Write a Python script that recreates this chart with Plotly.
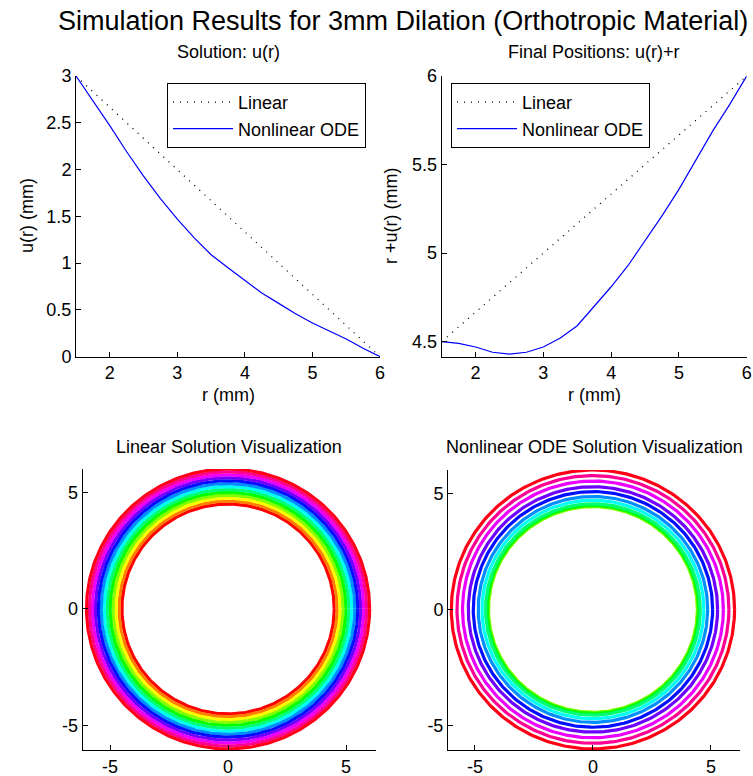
import colorsys
import numpy as np
import plotly.graph_objects as go

# ---------------- data ----------------
# solution curves (top panels)
r_grid = [1.5, 1.75, 2.0, 2.25, 2.5, 2.75, 3.0, 3.25, 3.5, 3.75,
          4.0, 4.25, 4.5, 4.75, 5.0, 5.25, 5.5, 5.75, 6.0]
u_nonlinear = [3.0, 2.74, 2.47, 2.19, 1.93, 1.69, 1.47, 1.27, 1.09, 0.95,
               0.81, 0.68, 0.57, 0.46, 0.36, 0.275, 0.19, 0.09, 0.0]
u_linear = [3.0, 2.8333, 2.6667, 2.5, 2.3333, 2.1667, 2.0, 1.8333, 1.6667, 1.5,
            1.3333, 1.1667, 1.0, 0.8333, 0.6667, 0.5, 0.3333, 0.1667, 0.0]

# ring visualization (bottom panels): initial radii and displacements
ring_r = [1.5, 1.875, 2.25, 2.625, 3.0, 3.375, 3.75, 4.125, 4.5, 4.875, 5.25, 5.625, 6.0]
ring_u_linear = [3.0, 2.75, 2.5, 2.25, 2.0, 1.75, 1.5, 1.25, 1.0, 0.75, 0.5, 0.25, 0.0]
ring_u_nonlinear = [3.0, 2.605, 2.19, 1.80, 1.47, 1.175, 0.95, 0.735, 0.57, 0.405,
                    0.275, 0.135, 0.0]

title_main = "Simulation Results for 3mm Dilation (Orthotropic Material)"
sub_titles = ["Solution: u(r)", "Final Positions: u(r)+r",
              "Linear Solution Visualization", "Nonlinear ODE Solution Visualization"]

tl_yticks = [0, 0.5, 1, 1.5, 2, 2.5, 3]
tl_yticktext = ["0", "0.5", "1", "1.5", "2", "2.5", "3"]
r_ticks = [2, 3, 4, 5, 6]
tr_yticks = [4.5, 5, 5.5, 6]
tr_yticktext = ["4.5", "5", "5.5", "6"]
circ_ticks = [-5, 0, 5]
circ_ticktext = ["-5", "0", "5"]

# ---------------- figure ----------------
W, H = 753, 776
FONT = "Liberation Sans, Arial, sans-serif"

def px(x):
    return x / W

def py(y):
    return 1 - y / H

pos_lin = [r + u for r, u in zip(r_grid, u_linear)]
pos_non = [r + u for r, u in zip(r_grid, u_nonlinear)]
ring_lin = [r + u for r, u in zip(ring_r, ring_u_linear)]
ring_non = [r + u for r, u in zip(ring_r, ring_u_nonlinear)]

fig = go.Figure()

# top-left
fig.add_trace(go.Scatter(x=r_grid, y=u_linear, mode="lines", name="Linear",
                         line=dict(color="black", width=1.3, dash="1px,6px"),
                         xaxis="x", yaxis="y", legend="legend"))
fig.add_trace(go.Scatter(x=r_grid, y=u_nonlinear, mode="lines", name="Nonlinear ODE",
                         line=dict(color="#0000ff", width=1.2),
                         xaxis="x", yaxis="y", legend="legend"))
# top-right
fig.add_trace(go.Scatter(x=r_grid, y=pos_lin, mode="lines", name="Linear",
                         line=dict(color="black", width=1.3, dash="1px,6px"),
                         xaxis="x2", yaxis="y2", legend="legend2"))
fig.add_trace(go.Scatter(x=r_grid, y=pos_non, mode="lines", name="Nonlinear ODE",
                         line=dict(color="#0000ff", width=1.2),
                         xaxis="x2", yaxis="y2", legend="legend2"))

# rings
theta = np.linspace(0, 2 * np.pi, 361)
N = len(ring_r)
for i in range(N):
    h = i / (N - 1) * 63 / 64
    rr, gg, bb = colorsys.hsv_to_rgb(h, 1, 1)
    col = f"rgb({int(rr*255)},{int(gg*255)},{int(bb*255)})"
    for pos, xa, ya in ((ring_lin, "x3", "y3"), (ring_non, "x4", "y4")):
        R = pos[i]
        fig.add_trace(go.Scatter(x=R * np.cos(theta), y=R * np.sin(theta), mode="lines",
                                 line=dict(color=col, width=3.2), showlegend=False,
                                 hoverinfo="skip", xaxis=xa, yaxis=ya))

axis_common = dict(showgrid=False, zeroline=False, showline=True, linecolor="black",
                   linewidth=1, ticks="inside", ticklen=5, tickcolor="black",
                   tickfont=dict(family=FONT, size=18, color="black"), mirror=False,
                   automargin=False)

legend_common = dict(xanchor="left", yanchor="top", bordercolor="black", borderwidth=1,
                     bgcolor="white", font=dict(family=FONT, size=18, color="black"),
                     tracegroupgap=0, itemwidth=60, entrywidth=150,
                     entrywidthmode="pixels")

fig.update_layout(
    width=W, height=H, margin=dict(l=0, r=0, t=0, b=0, pad=0, autoexpand=False),
    paper_bgcolor="white", plot_bgcolor="white",
    font=dict(family=FONT, size=18, color="black"),
    xaxis=dict(domain=[px(76), px(380)], range=[1.5, 6], tickvals=r_ticks,
               anchor="y", **axis_common),
    yaxis=dict(domain=[py(356.7), py(76)], range=[0, 3], tickvals=tl_yticks,
               ticktext=tl_yticktext, anchor="x", **axis_common),
    xaxis2=dict(domain=[px(441.7), px(746.7)], range=[1.5, 6], tickvals=r_ticks,
                anchor="y2", **axis_common),
    yaxis2=dict(domain=[py(356.7), py(76)], range=[4.415, 6], tickvals=tr_yticks,
                ticktext=tr_yticktext, anchor="x2", **axis_common),
    xaxis3=dict(domain=[px(82.7), px(376)], range=[-6.16, 6.27], tickvals=circ_ticks,
                ticktext=circ_ticktext, anchor="y3", **axis_common),
    yaxis3=dict(domain=[py(750), py(469)], range=[-6.05, 6.0], tickvals=circ_ticks,
                ticktext=circ_ticktext, anchor="x3", **axis_common),
    xaxis4=dict(domain=[px(448), px(740)], range=[-6.14, 6.23], tickvals=circ_ticks,
                ticktext=circ_ticktext, anchor="y4", **axis_common),
    yaxis4=dict(domain=[py(750), py(470)], range=[-6.05, 6.0], tickvals=circ_ticks,
                ticktext=circ_ticktext, anchor="x4", **axis_common),
    legend=dict(x=px(167), y=py(83), **legend_common),
    legend2=dict(x=px(451), y=py(83), **legend_common),
    showlegend=True,
)

ann = []
def add_text(text, x, y, size=18, angle=0):
    ann.append(dict(text=text, x=px(x), y=py(y), xref="paper", yref="paper",
                    xanchor="center", yanchor="middle", showarrow=False,
                    textangle=angle, font=dict(family=FONT, size=size, color="black")))

add_text(title_main, 403, 21, size=27)
add_text(sub_titles[0], 228, 52)
add_text(sub_titles[1], 594, 52)
add_text(sub_titles[2], 229, 447)
add_text(sub_titles[3], 594, 447)
add_text("r (mm)", 228, 395)
add_text("r (mm)", 594, 395)
add_text("u(r) (mm)", 27, 216, angle=-90)
add_text("r +u(r) (mm)", 391, 216, angle=-90)
fig.update_layout(annotations=ann)

fig.write_html("out.html")
